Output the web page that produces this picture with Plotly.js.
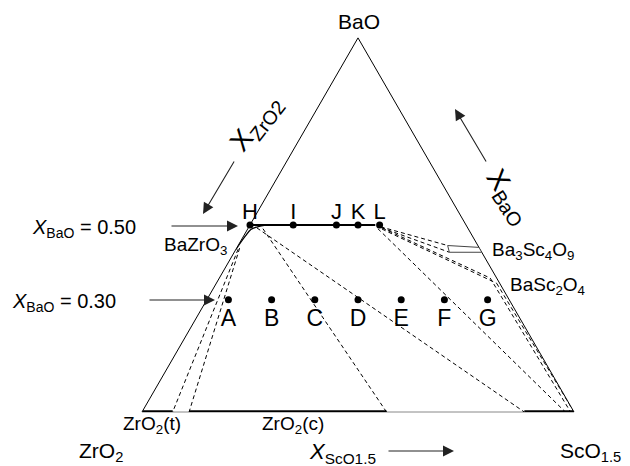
<!DOCTYPE html>
<html><head><meta charset="utf-8">
<script src="https://cdn.plot.ly/plotly-3.0.1.min.js"></script>
<style>html,body{margin:0;padding:0;background:#fff}#chart{width:630px;height:466px}</style>
</head><body><div id="chart"></div>
<script>
// Compositions are [BaO, ZrO2, ScO1.5] mole fractions
const lowLabels = ['A','B','C','D','E','F','G'];
const lowBaO    = [0.30,0.30,0.30,0.30,0.30,0.30,0.30];
const lowZrO2   = [0.65,0.55,0.45,0.35,0.25,0.15,0.05];
const lowScO    = [0.05,0.15,0.25,0.35,0.45,0.55,0.65];

const highLabels = ['H','I','J','K','L'];
const highBaO    = [0.50,0.50,0.50,0.50,0.50];
const highZrO2   = [0.50,0.40,0.30,0.25,0.20];
const highScO    = [0.00,0.10,0.20,0.25,0.30];

// BaZrO3 solid-solution boundary (solid lines)
const ssCurveBaO  = [0.435,0.470,0.488,0.495,0.500];
const ssCurveZrO2 = [0.565,0.526,0.504,0.485,0.460];
const ssCurveScO  = [0.000,0.004,0.008,0.020,0.040];
const ssTopBaO  = [0.500,0.500];
const ssTopZrO2 = [0.500,0.210];
const ssTopScO  = [0.000,0.290];

// single-phase ranges on the ZrO2-ScO1.5 edge (ScO1.5 fraction)
const edgeStartScO = [0.000,0.109,0.885];
const edgeEndScO   = [0.071,0.566,1.000];

// Ba3Sc4O9 solid-solution region
const boxBaO  = [0.445,0.440,0.427,0.427,0.445];
const boxZrO2 = [0.070,0.000,0.000,0.075,0.070];
const boxScO  = [0.485,0.560,0.573,0.498,0.485];

// tie lines (dashed): start and end compositions
const tieStart = [
  [0.435,0.560,0.005],
  [0.438,0.555,0.007],
  [0.490,0.475,0.035],
  [0.492,0.488,0.020],
  [0.490,0.209,0.301],
  [0.495,0.200,0.305],
  [0.493,0.200,0.307],
  [0.492,0.198,0.310],
  [0.489,0.200,0.311],
  [0.344,0.007,0.649],
  [0.358,0.015,0.627]
];
const tieEnd = [
  [0.000,0.929,0.071],
  [0.000,0.891,0.109],
  [0.000,0.434,0.566],
  [0.000,0.115,0.885],
  [0.000,0.020,0.980],
  [0.445,0.070,0.485],
  [0.427,0.075,0.498],
  [0.358,0.015,0.627],
  [0.344,0.007,0.649],
  [0.000,0.000,1.000],
  [0.000,0.008,0.992]
];

const FONT = 'Liberation Sans, Arial, Helvetica, sans-serif';
const traces = [];

// tie lines
for (let i = 0; i < tieStart.length; i++) {
  traces.push({
    type:'scatterternary', mode:'lines',
    a:[tieStart[i][0], tieEnd[i][0]],
    b:[tieStart[i][1], tieEnd[i][1]],
    c:[tieStart[i][2], tieEnd[i][2]],
    line:{color:'#000', width:1, dash:'4px,3px'},
    cliponaxis:false, hoverinfo:'skip'
  });
}
// thick edge segments
for (let i = 0; i < edgeStartScO.length; i++) {
  traces.push({
    type:'scatterternary', mode:'lines',
    a:[0,0], b:[1-edgeStartScO[i], 1-edgeEndScO[i]], c:[edgeStartScO[i], edgeEndScO[i]],
    line:{color:'#000', width:3.5}, cliponaxis:false, hoverinfo:'skip'
  });
}
// BaZrO3 ss boundary
traces.push({type:'scatterternary', mode:'lines', a:ssCurveBaO, b:ssCurveZrO2, c:ssCurveScO,
  line:{color:'#000', width:1.3, shape:'spline'}, cliponaxis:false, hoverinfo:'skip'});
traces.push({type:'scatterternary', mode:'lines', a:ssTopBaO, b:ssTopZrO2, c:ssTopScO,
  line:{color:'#000', width:2}, cliponaxis:false, hoverinfo:'skip'});
// Ba3Sc4O9 box
traces.push({type:'scatterternary', mode:'lines', a:boxBaO, b:boxZrO2, c:boxScO,
  line:{color:'#444', width:1}, fill:'toself', fillcolor:'#fff', cliponaxis:false, hoverinfo:'skip'});
// sample points (markers)
traces.push({type:'scatterternary', mode:'markers', a:lowBaO, b:lowZrO2, c:lowScO,
  marker:{color:'#000', size:7}, cliponaxis:false, hoverinfo:'skip'});
traces.push({type:'scatterternary', mode:'markers', a:highBaO, b:highZrO2, c:highScO,
  marker:{color:'#000', size:7}, cliponaxis:false, hoverinfo:'skip'});
// sample labels (invisible markers set the label offset)
traces.push({type:'scatterternary', mode:'markers+text', a:lowBaO, b:lowZrO2, c:lowScO,
  text:lowLabels, textposition:'bottom center', textfont:{family:FONT, size:23, color:'#000'},
  marker:{color:'rgba(0,0,0,0)', size:12}, cliponaxis:false, hoverinfo:'skip'});
traces.push({type:'scatterternary', mode:'text', a:highBaO, b:highZrO2, c:highScO,
  text:highLabels, textposition:'top center', textfont:{family:FONT, size:22, color:'#000'},
  cliponaxis:false, hoverinfo:'skip'});

function P(x, y) { return {x:x/630, y:1-y/466, xref:'paper', yref:'paper'}; }
function label(x, y, text, opts) {
  return Object.assign(P(x,y), {text:text, showarrow:false, font:{family:FONT, size:19, color:'#000'},
    xanchor:'center', yanchor:'middle'}, opts || {});
}
function arrow(hx, hy, tx, ty) {
  return Object.assign(P(hx,hy), {text:'', showarrow:true, ax:tx-hx, ay:ty-hy,
    arrowhead:2, arrowsize:2, arrowwidth:1.1, arrowcolor:'#222'});
}

const annotations = [
  label(359, 21, 'BaO', {font:{family:FONT,size:21,color:'#000'}}),
  label(101, 452, 'ZrO<sub>2</sub>', {font:{family:FONT,size:21,color:'#000'}}),
  label(590, 452, 'ScO<sub>1.5</sub>', {font:{family:FONT,size:21,color:'#000'}}),
  label(342, 453, '<i>X</i><sub>ScO1.5</sub>', {font:{family:FONT,size:22,color:'#000'}}),
  arrow(454, 451, 387, 451),
  label(256, 124, 'X<sub>ZrO2</sub>', {font:{family:FONT,size:28,color:'#000'}, textangle:-52}),
  arrow(203, 214, 235, 160),
  label(508, 197, 'X<sub>BaO</sub>', {font:{family:FONT,size:28,color:'#000'}, textangle:57}),
  arrow(455, 109, 487, 163),
  label(30, 228, '<i>X</i><sub>BaO</sub> = 0.50', {xanchor:'left', font:{family:FONT,size:20,color:'#000'}}),
  arrow(238, 226, 170, 226),
  label(10, 302, '<i>X</i><sub>BaO</sub> = 0.30', {xanchor:'left', font:{family:FONT,size:20,color:'#000'}}),
  arrow(215, 300, 148, 300),
  label(195, 246, 'BaZrO<sub>3</sub>'),
  label(490, 251, 'Ba<sub>3</sub>Sc<sub>4</sub>O<sub>9</sub>', {xanchor:'left'}),
  label(508, 286, 'BaSc<sub>2</sub>O<sub>4</sub>', {xanchor:'left'}),
  label(152, 425, 'ZrO<sub>2</sub>(t)'),
  label(292.5, 425, 'ZrO<sub>2</sub>(c)')
];

const axisCommon = {showticklabels:false, ticks:'', showgrid:false, linewidth:1, layer:'below traces', title:{text:''}};
const layout = {
  width:630, height:466,
  margin:{l:0, r:0, t:0, b:0},
  paper_bgcolor:'#fff',
  showlegend:false,
  hovermode:false,
  ternary:{
    sum:1,
    domain:{x:[142/630, 574/630], y:[(466-412)/466, (466-37.88)/466]},
    bgcolor:'#fff',
    aaxis:Object.assign({}, axisCommon, {linecolor:'#000'}),
    baxis:Object.assign({}, axisCommon, {linecolor:'#888'}),
    caxis:Object.assign({}, axisCommon, {linecolor:'#000'})
  },
  annotations:annotations
};

Plotly.newPlot('chart', traces, layout, {staticPlot:true, displayModeBar:false});
</script>
</body></html>
